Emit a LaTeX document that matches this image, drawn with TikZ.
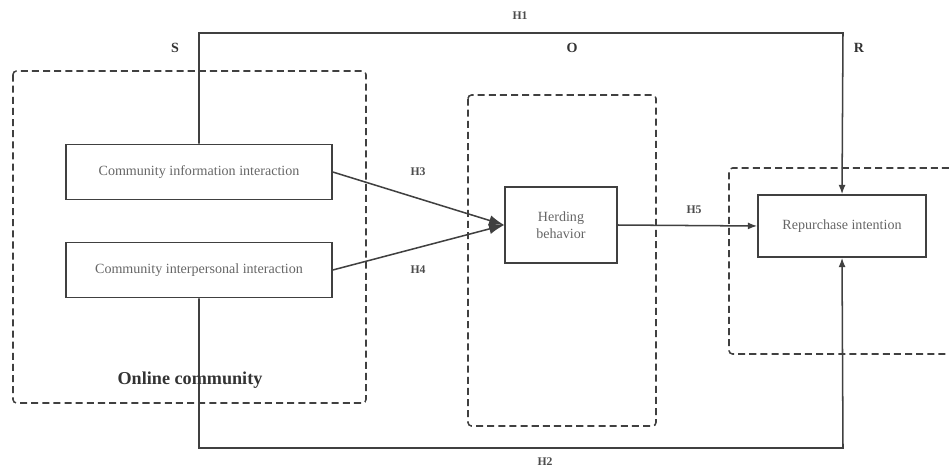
\documentclass[tikz,border=0pt]{standalone}
\usepackage{fontspec}
\setmainfont{Liberation Serif}
\usetikzlibrary{arrows.meta}

\tikzset{
    factor/.style={rectangle,draw=black!75,line width=1.3pt,text=black!60,font=\large,align=center},
    group/.style={draw=black!75,line width=1.3pt,dashed,dash pattern=on 6pt off 3.5pt,rounded corners=3pt},
    path/.style={draw=black!75,line width=1.3pt},
    hyp/.style={font=\normalsize\bfseries,text=black!70},
    stage/.style={font=\large\bfseries,text=black!80}
}

\begin{document}
\begin{tikzpicture}[x=0.03cm,y=-0.03cm]
            \useasboundingbox (0,0) rectangle (949,469);
            % groups
            \draw[group] (13,71) rectangle (366,403);
            \draw[group] (468,95) rectangle (656,426);
            \draw[group] (949,168) -- (729,168) -- (729,354) -- (949,354);
            % factors
            \node[factor,minimum width=7.98cm,minimum height=1.65cm] (info) at (199,172) {Community information interaction};
            \node[factor,minimum width=7.98cm,minimum height=1.65cm] (inter) at (199,270) {Community interpersonal interaction};
            \node[factor,minimum width=3.36cm,minimum height=2.28cm] (herd) at (561,225) {Herding\\behavior};
            \node[factor,minimum width=5.04cm,minimum height=1.86cm] (rep) at (842,226) {Repurchase intention};
            \coordinate (topL) at (199,33);
            \coordinate (topR) at (843,33);
            \coordinate (botL) at (199,448);
            \coordinate (botR) at (843,448);
            % paths
            \draw[path,-{Latex[length=8pt,width=6pt]}] (info.north) -- (topL) -- (topR) -- (rep.north);
            \draw[path,-{Latex[length=8pt,width=6pt]}] (inter.south) -- (botL) -- (botR) -- (rep.south);
            \draw[path,-{Latex[length=13pt,width=9pt]}] (info.east) -- (herd.west);
            \draw[path,-{Latex[length=13pt,width=9pt]}] (inter.east) -- (herd.west);
            \draw[path,-{Latex[length=8pt,width=6pt]}] (herd.east) -- (rep.west);
            % labels
            \node[hyp] (h1) at (520,16) {H1};
            \node[hyp] (h2) at (545,462) {H2};
            \node[hyp] (h3) at (418,172) {H3};
            \node[hyp] (h4) at (418,270) {H4};
            \node[hyp] (h5) at (694,210) {H5};
            \node[stage] (s) at (175,48) {S};
            \node[stage] (o) at (572,48) {O};
            \node[stage] (r) at (859,48) {R};
            \node[font=\fontsize{15.5}{18}\selectfont\bfseries,text=black!80] (oc) at (190,380) {Online community};
        \end{tikzpicture}
\end{document}
